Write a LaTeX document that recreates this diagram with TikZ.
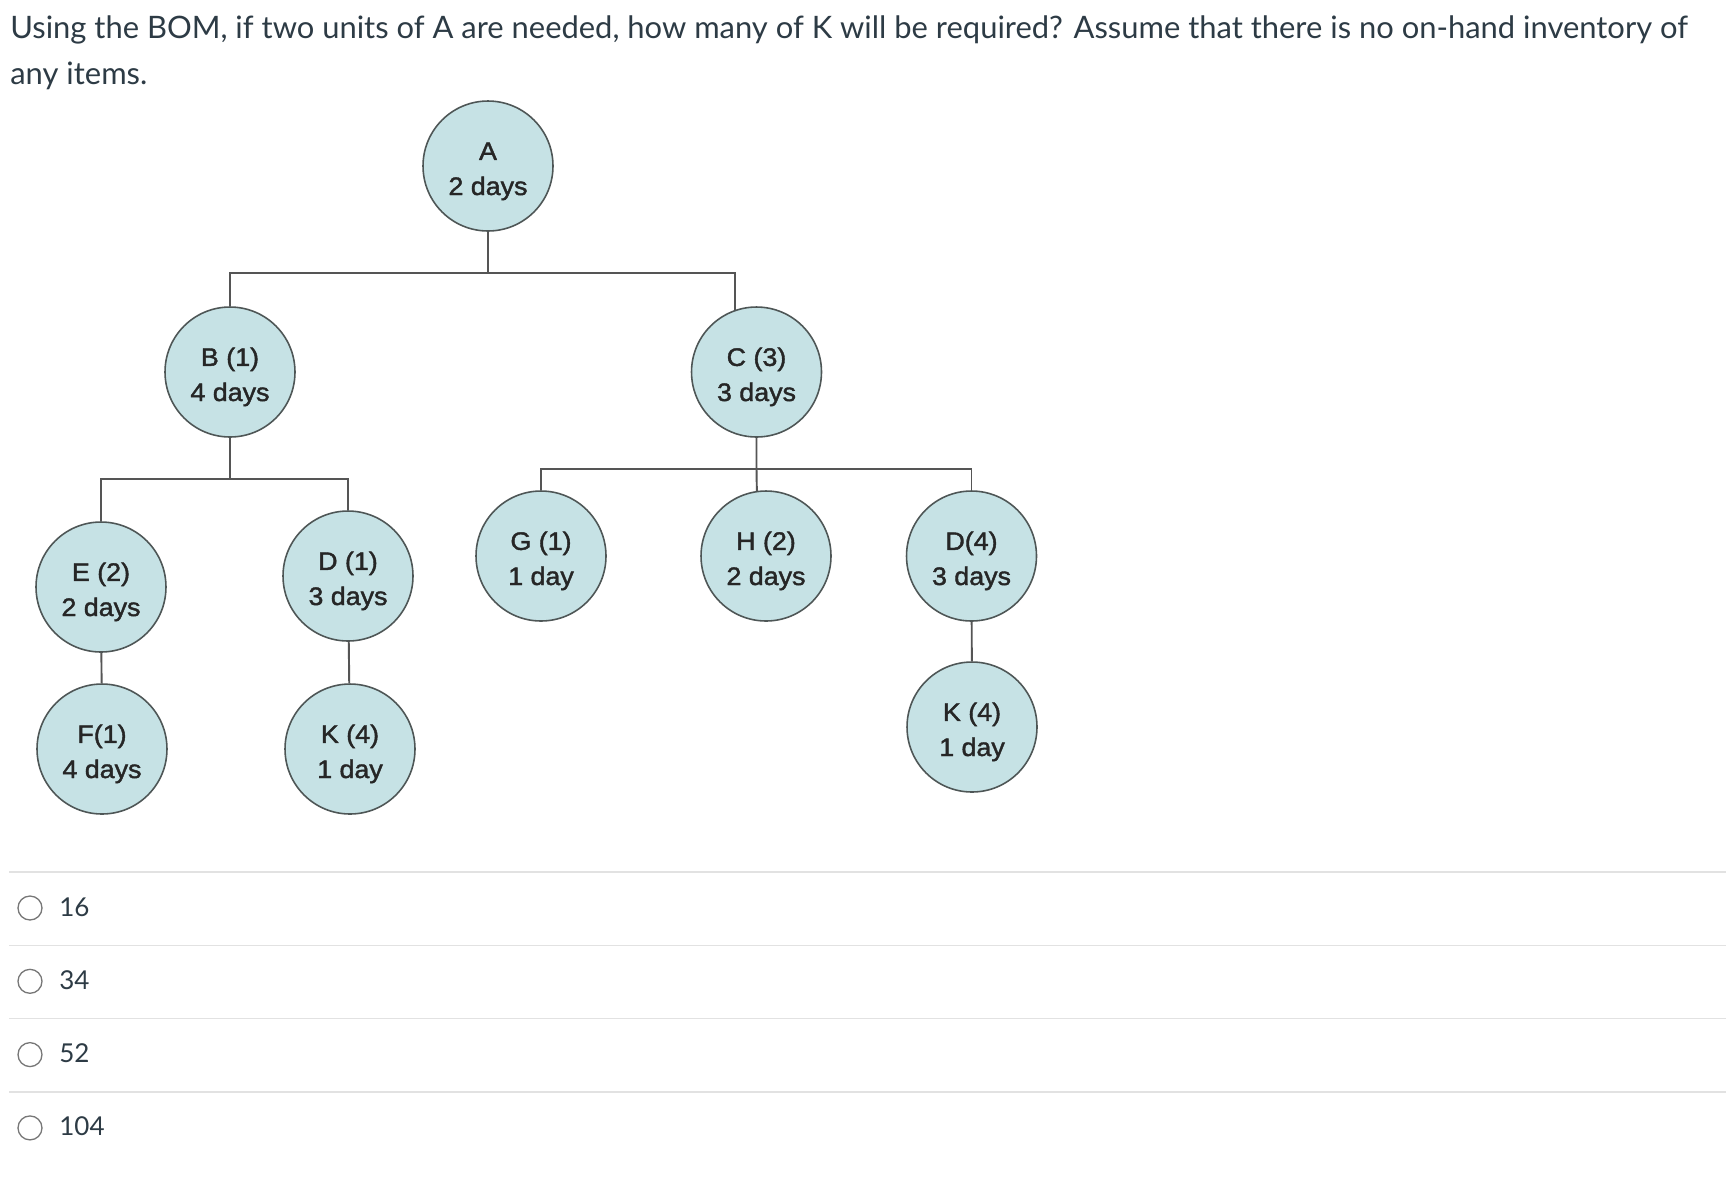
\documentclass[tikz,border=0pt]{standalone}
\usepackage{fontspec}
\setmainfont{Lato}
\newfontfamily\bomfont[FakeStretch=1.06, FakeBold=1.6]{Liberation Sans}
\newcommand\partstrut{\rule{0pt}{16pt}}
\definecolor{bomfill}{HTML}{C6E2E5}
\definecolor{bomedge}{HTML}{4E5656}
\definecolor{bomwire}{HTML}{555555}
\definecolor{canvastext}{HTML}{2D3B45}
\definecolor{rule}{HTML}{E2E2E2}
\definecolor{radioedge}{HTML}{777777}
\tikzset{
  part/.style={circle, draw=bomedge, line width=0.9pt, fill=bomfill, minimum size=2.6cm,
    inner sep=0pt, align=center, text=black!85, font=\bomfont\fontsize{14.4}{20}\selectfont},
  bomline/.style={draw=bomwire, line width=1.1pt},
  question/.style={anchor=base west, inner sep=0pt, text=canvastext, font=\fontsize{17.6}{21}\selectfont},
  radio/.style={circle, draw=radioedge, line width=0.75pt, minimum size=0.48cm, inner sep=0pt},
  answer/.style={anchor=base west, inner sep=0pt, text=canvastext, font=\fontsize{14.8}{17}\selectfont}
}
\begin{document}
\begin{tikzpicture}[x=0.02cm, y=-0.02cm]
  %tikz  BOM, product structure tree
  \useasboundingbox (0,0) rectangle (1726,1184);
  \node[question] (q1) at (10,38) {Using the BOM, if two units of A are needed, how many of K will be required? Assume that there is no on-hand inventory of};
  \node[question] (q2) at (10,84) {any items.};

  \node[part] (A)  at (488,166)   {\partstrut A\\2 days};
  \node[part] (B)  at (230,372)   {\partstrut B (1)\\4 days};
  \node[part] (C)  at (756.5,372) {\partstrut C (3)\\3 days};
  \node[part] (E)  at (101,587)   {\partstrut E (2)\\2 days};
  \node[part] (D1) at (348,576)   {\partstrut D (1)\\3 days};
  \node[part] (F)  at (102,749)   {\partstrut F(1)\\4 days};
  \node[part] (K1) at (350,749)   {\partstrut K (4)\\1 day};
  \node[part] (G)  at (541,556)   {\partstrut G (1)\\1 day};
  \node[part] (H)  at (766,556)   {\partstrut H (2)\\2 days};
  \node[part] (D4) at (971.5,556) {\partstrut D(4)\\3 days};
  \node[part] (K2) at (972,727)   {\partstrut K (4)\\1 day};

  \coordinate (jA) at (488,273);
  \coordinate (jB) at (230,479);
  \coordinate (jC) at (756.5,469);
  \draw[bomline] (A) -- (jA);
  \draw[bomline] (B) |- (jA) -| (C.109);
  \draw[bomline] (B) -- (jB);
  \draw[bomline] (E) |- (jB) -| (D1);
  \draw[bomline] (C) -- (jC) -- (H.98);
  \draw[bomline] (G) |- (jC) -| (D4);
  \draw[bomline] (E) -- (F);
  \draw[bomline] (D1) -- (K1);
  \draw[bomline] (D4) -- (K2);

  \foreach \val [count=\i] in {16,34,52,104} {
    \pgfmathsetmacro\yy{908+73.3*(\i-1)}
    \draw[rule, line width=0.8pt] (9,\yy-36) -- (1726,\yy-36);
    \node[radio] (r\i) at (30,\yy) {};
    \node[answer] (o\i) at (59,\yy+8) {\val};
  }
\end{tikzpicture}
\end{document}
